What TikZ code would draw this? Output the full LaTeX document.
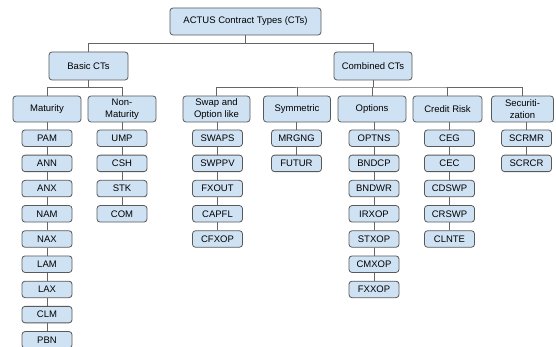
\documentclass[tikz,border=0pt]{standalone}
\usepackage{fontspec}
\setmainfont{Liberation Sans}
\usetikzlibrary{calc}
\definecolor{boxfill}{HTML}{CFE2F3}
\definecolor{boxline}{HTML}{595959}
\definecolor{connline}{HTML}{666666}
\tikzset{
  base/.style={draw=boxline, fill=boxfill, rounded corners=3pt, line width=0.8pt,
    inner sep=0pt, align=center, font=\fontsize{9.5}{11.5}\selectfont},
  topbox/.style={base, minimum width=151pt, minimum height=27pt},
  catbox/.style={base, minimum width=79pt, minimum height=28pt},
  midbox/.style={base, minimum width=68pt, minimum height=26pt},
  leafbox/.style={base, minimum width=50pt, minimum height=16.5pt},
  conn/.style={draw=connline, line width=0.8pt}
}
\begin{document}
\begin{tikzpicture}[x=1pt,y=-1pt]
\useasboundingbox[fill=white] (0,0) rectangle (556,347);
\coordinate (bus1) at (0,43);
\coordinate (bus2) at (0,87);

\node[topbox] (top) at (245.5,21.5) {ACTUS Contract Types (CTs)};
\node[catbox] (basic) at (88.5,66) {Basic CTs};
\node[catbox, minimum width=78pt] (comb) at (373,66) {Combined CTs};

\node[midbox] (mat) at (47,109) {Maturity};
\node[midbox] (nonmat) at (122,109) {Non-\\Maturity};
\node[midbox, minimum width=67pt] (swap) at (216.5,109) {Swap and\\Option like};
\node[midbox, minimum width=67pt] (sym) at (297,109) {Symmetric};
\node[midbox] (opt) at (372,109) {Options};
\node[midbox, minimum width=69pt] (cred) at (447.5,109) {Credit Risk};
\node[midbox, minimum width=62pt] (sec) at (522.5,109) {Securiti-\\zation};

% top level connectors
\draw[conn] (top.south) -- (top.south |- bus1) -| (basic.north);
\draw[conn] (top.south |- bus1) -| (comb.north);
% basic
\draw[conn] (basic.south) -- (basic.south |- bus2) -| (mat.north);
\draw[conn] (basic.south |- bus2) -| (nonmat.north);
% combined
\draw[conn] (comb.south) -- (comb.south |- bus2);
\draw[conn] (swap.north) |- (comb.south |- bus2) -| (sec.north);
\draw[conn] (sym.north) -- (sym.north |- bus2);
\draw[conn] (opt.north) -- (opt.north |- bus2);
\draw[conn] (cred.north) -- (cred.north |- bus2);

% leaves
\foreach \pnode/\x/\list in {
  mat/47/{PAM,ANN,ANX,NAM,NAX,LAM,LAX,CLM,PBN},
  nonmat/122/{UMP,CSH,STK,COM},
  swap/217.5/{SWAPS,SWPPV,FXOUT,CAPFL,CFXOP},
  sym/296.5/{MRGNG,FUTUR},
  opt/374/{OPTNS,BNDCP,BNDWR,IRXOP,STXOP,CMXOP,FXXOP},
  cred/449.5/{CEG,CEC,CDSWP,CRSWP,CLNTE},
  sec/526.5/{SCRMR,SCRCR}} {
  \foreach \t [count=\i] in \list {
    \pgfmathsetmacro{\yy}{138.2+25.2*(\i-1)}
    \node[leafbox] (\t) at (\x,\yy) {\t};
    \ifnum\i=1
      \draw[conn] (\pnode.south -| \t.north) -- (\t.north);
    \fi
  }
}
% chains between leaves
\foreach \a/\b in {PAM/ANN,ANN/ANX,ANX/NAM,NAM/NAX,NAX/LAM,LAM/LAX,LAX/CLM,CLM/PBN,
  UMP/CSH,CSH/STK,STK/COM,
  SWAPS/SWPPV,SWPPV/FXOUT,FXOUT/CAPFL,CAPFL/CFXOP,
  MRGNG/FUTUR,
  OPTNS/BNDCP,BNDCP/BNDWR,BNDWR/IRXOP,IRXOP/STXOP,STXOP/CMXOP,CMXOP/FXXOP,
  CEG/CEC,CEC/CDSWP,CDSWP/CRSWP,CRSWP/CLNTE,
  SCRMR/SCRCR} {
  \draw[conn] (\a.south) -- (\b.north);
}
\end{tikzpicture}
\end{document}
